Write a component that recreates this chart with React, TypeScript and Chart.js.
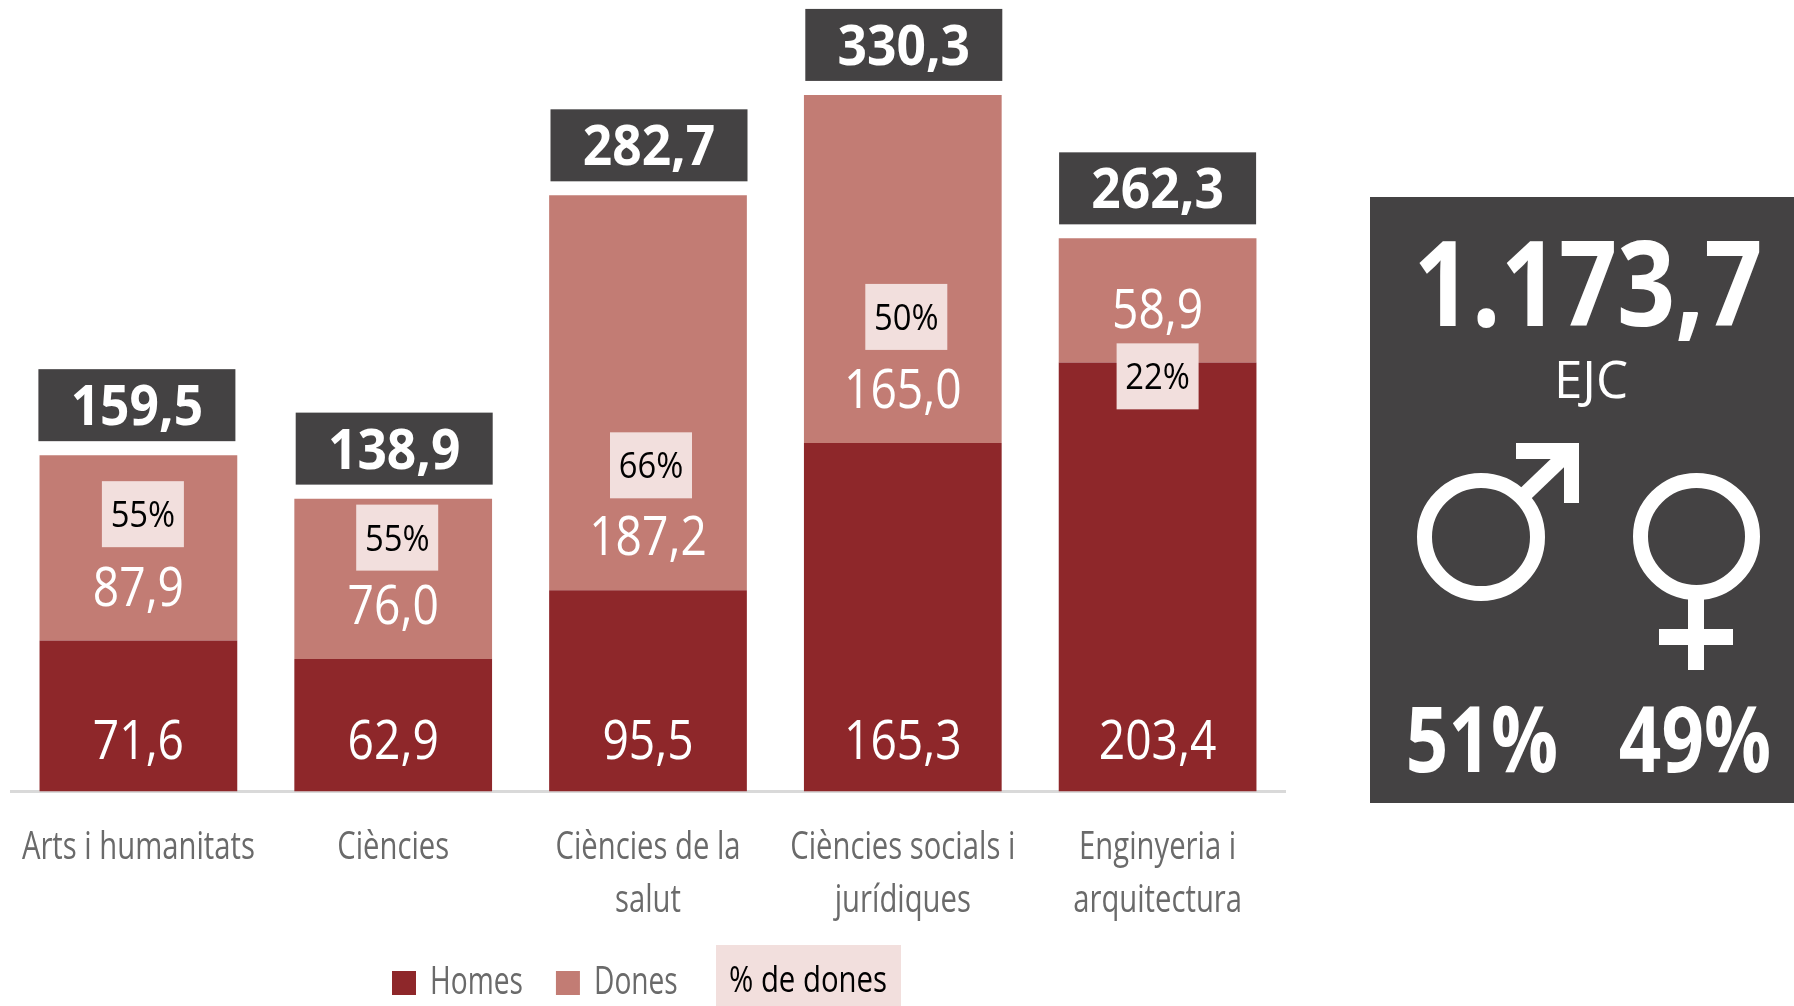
import React, { useEffect, useRef } from "react";
import { Chart, registerables } from "chart.js";

Chart.register(...registerables);

const categories: (string | string[])[] = [
  "Arts i humanitats",
  "Ciències",
  ["Ciències de la", "salut"],
  ["Ciències socials i", "jurídiques"],
  ["Enginyeria i", "arquitectura"],
];
const homes = [71.6, 62.9, 95.5, 165.3, 203.4];
const dones = [87.9, 76.0, 187.2, 165.0, 58.9];
const totals = [159.5, 138.9, 282.7, 330.3, 262.3];
const percentDones = [55, 55, 66, 50, 22];
const grandTotal = "1.173,7";
const grandUnit = "EJC";
const sharesLabels = ["51%", "49%"];
const percentLegend = "% de dones";

const W = 1794;
const H = 1006;
const BASELINE = 791.6;
const RED = "#8e272a";
const ROSE = "#c27c74";
const DARK = "#444243";
const PINK = "#f2dfdd";
const GREY = "#6a6a6a";
const SANS = '"Open Sans"';
const LEGEND_SX = 0.74;
const LEGEND_X = 392;

// label-layout tweaks (pixels), kept apart from the data
const totalBoxShift = [-1.5, 1, 1, 1, 0];
const badgeShiftX = [4.5, 4, 3, 3.5, 0];
const badgeShiftY = [59, 39, 270, 222, 138];

function text(
  ctx: CanvasRenderingContext2D,
  s: string,
  x: number,
  yBase: number,
  font: string,
  color: string,
  sx = 1
) {
  ctx.save();
  ctx.translate(x, yBase);
  ctx.scale(sx, 1);
  ctx.font = font;
  ctx.fillStyle = color;
  ctx.textAlign = "center";
  ctx.textBaseline = "alphabetic";
  ctx.fillText(s, 0, 0);
  ctx.restore();
}

const fmt = (v: number) => v.toFixed(1).replace(".", ",");

const labelsPlugin = {
  id: "labelsPlugin",
  afterLayout(chart: any) {
    const lg = chart.legend;
    if (lg) {
      const pad = lg.options.labels.padding;
      lg.left = LEGEND_X - pad;
      lg.right = lg.left + 600;
      lg.top = 982 - pad - 18;
      lg.bottom = H;
      if (!lg.__wrapped) {
        lg.__wrapped = true;
        const orig = lg.draw.bind(lg);
        lg.draw = (area: any) => {
          const c = chart.ctx;
          c.save();
          c.translate(LEGEND_X, 0);
          c.scale(LEGEND_SX, 1);
          c.translate(-LEGEND_X, 0);
          orig(area);
          c.restore();
        };
      }
    }
  },
  afterDatasetsDraw(chart: any) {
    const ctx: CanvasRenderingContext2D = chart.ctx;
    const barsH = chart.getDatasetMeta(0).data;
    const barsD = chart.getDatasetMeta(1).data;
    barsH.forEach((b: any, i: number) => {
      const d = barsD[i];
      // values
      text(ctx, fmt(homes[i]), b.x, BASELINE - 33, `400 55px ${SANS}`, "#fff", 0.84);
      text(ctx, fmt(dones[i]), d.x, b.y - 35, `400 55px ${SANS}`, "#fff", 0.84);
      // totals
      const bx = d.x + totalBoxShift[i];
      ctx.fillStyle = DARK;
      ctx.fillRect(bx - 98.5, d.y - 14 - 72, 197, 72);
      text(ctx, fmt(totals[i]), bx, d.y - 14 - 16, `700 56px ${SANS}`, "#fff", 0.92);
      // badges
      const cx = d.x + badgeShiftX[i];
      const cy = d.y + badgeShiftY[i];
      ctx.fillStyle = PINK;
      ctx.fillRect(cx - 41, cy - 33, 82, 66);
      text(ctx, percentDones[i] + "%", cx, cy + 13, `400 36px ${SANS}`, "#000", 0.91);
    });

    // legend extra entry
    ctx.fillStyle = PINK;
    ctx.fillRect(716, 945, 185, 61);
    text(ctx, percentLegend, 808, 992, `400 36px ${SANS}`, "#000", 0.815);

    // side panel
    ctx.fillStyle = DARK;
    ctx.fillRect(1370, 197, 424, 606);
    text(ctx, grandTotal, 1588, 326, `700 119px ${SANS}`, "#fff", 0.855);
    text(ctx, grandUnit, 1591, 398, `400 52px ${SANS}`, "#fff", 0.98);
    text(ctx, sharesLabels[0], 1482, 772, `700 92px ${SANS}`, "#fff", 0.81);
    text(ctx, sharesLabels[1], 1695, 772, `700 92px ${SANS}`, "#fff", 0.81);

    // male symbol
    ctx.strokeStyle = "#fff";
    ctx.fillStyle = "#fff";
    ctx.lineWidth = 15;
    ctx.beginPath();
    ctx.arc(1481, 537, 56.5, 0, Math.PI * 2);
    ctx.stroke();
    ctx.beginPath();
    ctx.moveTo(1522, 497);
    ctx.lineTo(1570, 451);
    ctx.stroke();
    ctx.fillRect(1516, 443, 63, 16);
    ctx.fillRect(1564, 443, 15, 60);
    // female symbol
    ctx.beginPath();
    ctx.arc(1696.5, 536.5, 56, 0, Math.PI * 2);
    ctx.stroke();
    ctx.fillRect(1688, 598, 16, 72);
    ctx.fillRect(1659, 629, 74, 16);
  },
};

export default function App() {
  const ref = useRef<HTMLCanvasElement>(null);
  useEffect(() => {
    const chart = new Chart(ref.current!, {
      type: "bar",
      data: {
        labels: categories as any,
        datasets: [
          { label: "Homes", data: homes, backgroundColor: RED, borderWidth: 0 },
          { label: "Dones", data: dones, backgroundColor: ROSE, borderWidth: 0 },
        ],
      },
      plugins: [labelsPlugin],
      options: {
        animation: false,
        responsive: false,
        layout: { padding: { left: 11, right: W - 1285, top: 0, bottom: 0 } },
        datasets: { bar: { barPercentage: 0.776, categoryPercentage: 1 } },
        scales: {
          x: {
            stacked: true,
            grid: { display: false, drawTicks: false },
            border: { display: true, color: "#d9d9d9", width: 3 },
            ticks: {
              color: GREY,
              padding: 29,
              maxRotation: 0,
              autoSkip: false,
              font: { family: SANS, size: 39, lineHeight: 1.33 },
            },
            afterFit(scale: any) {
              const lg = scale.chart.legend;
              scale.height = H - BASELINE - (lg ? lg.height : 0);
              scale.paddingLeft = 0;
              scale.paddingRight = 0;
            },
            afterUpdate(scale: any) {
              // the scale's own labels, condensed horizontally
              scale.drawLabels = function () {
                const c = this.ctx;
                this.ticks.forEach((t: any, i: number) => {
                  const lines = Array.isArray(t.label) ? t.label : [t.label];
                  const x = this.getPixelForTick(i);
                  lines.forEach((ln: string, j: number) => {
                    text(c, ln, x, 859 + j * 53, `400 39px ${SANS}`, GREY, 0.75);
                  });
                });
              };
            },
          },
          y: { stacked: true, display: false, min: 0, max: 375.3 },
        },
        plugins: {
          tooltip: { enabled: false },
          title: { display: false },
          legend: {
            display: true,
            position: "bottom",
            align: "start",
            labels: {
              boxWidth: 24 / LEGEND_SX,
              boxHeight: 24,
              padding: 33 / LEGEND_SX,
              color: GREY,
              font: { family: SANS, size: 38 },
            },
          },
        },
      } as any,
    });
    return () => chart.destroy();
  }, []);
  return (
    <div style={{ position: "absolute", left: 0, top: 0, width: W, height: H, background: "#fff" }}>
      <canvas ref={ref} width={W} height={H} style={{ display: "block" }} />
    </div>
  );
}
